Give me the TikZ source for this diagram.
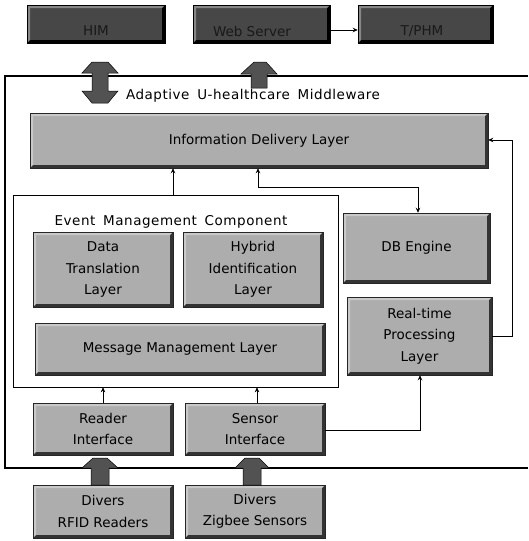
\documentclass[tikz,border=0pt]{standalone}
\usepackage{fontspec}
\setmainfont{DejaVu Sans}
\newfontfamily\spacedfont[LetterSpace=4,WordSpace=1.6]{DejaVu Sans}
\usetikzlibrary{arrows.meta}

\tikzset{
  % raised look: light top/left rim, dark bottom/right rim
  bevel/.style={path picture={
    \fill[#1] (path picture bounding box.north east)
      -- (path picture bounding box.south east)
      -- (path picture bounding box.south west)
      -- ([shift={(3pt,3pt)}]path picture bounding box.south west)
      -- ([shift={(-3pt,3pt)}]path picture bounding box.south east)
      -- ([shift={(-3pt,-3pt)}]path picture bounding box.north east) -- cycle;
    \fill[white,opacity=0.35] (path picture bounding box.north east)
      -- (path picture bounding box.north west)
      -- (path picture bounding box.south west)
      -- ([shift={(3pt,3pt)}]path picture bounding box.south west)
      -- ([shift={(3pt,-3pt)}]path picture bounding box.north west)
      -- ([shift={(-3pt,-3pt)}]path picture bounding box.north east) -- cycle;
  }},
  layer/.style={draw=black!85, line width=0.5pt, fill=black!32, bevel=black!80,
    align=center, inner sep=0pt, font=\fontsize{13.5}{21.5}\selectfont},
  darkbox/.style={draw=black, line width=0.5pt, fill=black!72, bevel=black,
    inner sep=0pt},
  darktext/.style={font=\fontsize{13.5}{16}\selectfont, text=black!90},
  frame/.style={draw=black, line width=0.6pt, fill=white},
  link/.style={draw=black, line width=0.7pt, -{Stealth[length=5pt,width=4.5pt]}},
  twolink/.style={draw=black, line width=0.7pt, {Stealth[length=5pt,width=4.5pt]}-{Stealth[length=5pt,width=4.5pt]}},
  fat/.style={fill=black!68, draw=black, line width=0.5pt},
  title/.style={font=\spacedfont\fontsize{13.5}{16}\selectfont},
}

\begin{document}
\begin{tikzpicture}[x=1pt,y=-1pt]
\useasboundingbox (0,0) rectangle (528,541);

% middleware frame
\draw[line width=2.6pt] (528,76) -- (5,76) -- (5,468) -- (528,468);
\node[title] (mwtitle) at (253,96) {Adaptive U-healthcare Middleware};

% external systems
\node[darkbox, minimum width=138pt, minimum height=38pt] (him) at (96,24) {};
\node[darkbox, minimum width=137pt, minimum height=38pt] (web) at (261.5,24) {};
\node[darkbox, minimum width=135pt, minimum height=38pt] (tp) at (425.5,24) {};
\node[darktext] (himt) at (96,31) {HIM};
\node[darktext] (webt) at (252,31) {Web Server};
\node[darktext] (tpt) at (422,31) {T/PHM};

% layers
\node[layer, minimum width=458pt, minimum height=55pt] (idl) at (259,140.5) {Information Delivery Layer};
\node[frame, minimum width=325pt, minimum height=192pt] (emc) at (175.5,291) {};
\node[title] (emct) at (171,222) {Event Management Component};
\node[layer, minimum width=140pt, minimum height=75pt] (dtl) at (103,269.5) {Data\\Translation\\Layer};
\node[layer, minimum width=140pt, minimum height=75pt] (hil) at (253,269.5) {Hybrid\\Identification\\Layer};
\node[layer, minimum width=290pt, minimum height=52pt] (mml) at (180,349) {Message Management Layer};
\node[layer, minimum width=147pt, minimum height=70pt] (db) at (416.5,248) {DB Engine};
\node[layer, minimum width=145pt, minimum height=78pt] (rt) at (419.5,336) {Real-time\\Processing\\Layer};
\node[layer, minimum width=140pt, minimum height=52pt] (ri) at (103,429) {Reader\\Interface};
\node[layer, minimum width=140pt, minimum height=52pt] (si) at (255,429) {Sensor\\Interface};
\node[layer, minimum width=140pt, minimum height=53pt] (dr) at (103,511.5) {Divers\\RFID Readers};
\node[layer, minimum width=140pt, minimum height=53pt] (dz) at (255,511.5) {Divers\\Zigbee Sensors};

% connectors
\draw[link] (web.east |- 0,30) -- (tp.west |- 0,30);
\draw[link] (emc.north -| 173,0) -- (idl.south -| 173,0);
\draw[twolink] (idl.south -| 258,0) -- (258,187) -- (418,187) -- (db.north -| 418,0);
\draw[link] (rt.east) -- (512,336) -- (512,140) -- (idl.east |- 0,140);
\draw[link] (ri.north -| 103,0) -- (emc.south -| 103,0);
\draw[link] (si.north -| 257,0) -- (emc.south -| 257,0);
\draw[link] (si.east |- 0,430) -- (420,430) -- (rt.south -| 420,0);

% wide arrows between the layers and the outside
\path[fat] (100,62) -- (108,62) -- (118,73) -- (108,73) -- (108,91) -- (118,91)
  -- (108,103) -- (92,103) -- (82,91) -- (92,91) -- (92,73) -- (82,73) -- (92,62) -- cycle;
\path[fat] (254,62) -- (266,62) -- (277,74) -- (267,74) -- (267,88) -- (251,88)
  -- (251,74) -- (241,74) -- cycle;
\path[fat] (93,458) -- (107,458) -- (118,468) -- (109,468) -- (109,485) -- (91,485)
  -- (91,468) -- (82,468) -- cycle;
\path[fat] (245,458) -- (259,458) -- (269,468) -- (261,468) -- (261,485) -- (243,485)
  -- (243,468) -- (235,468) -- cycle;
\end{tikzpicture}
\end{document}
